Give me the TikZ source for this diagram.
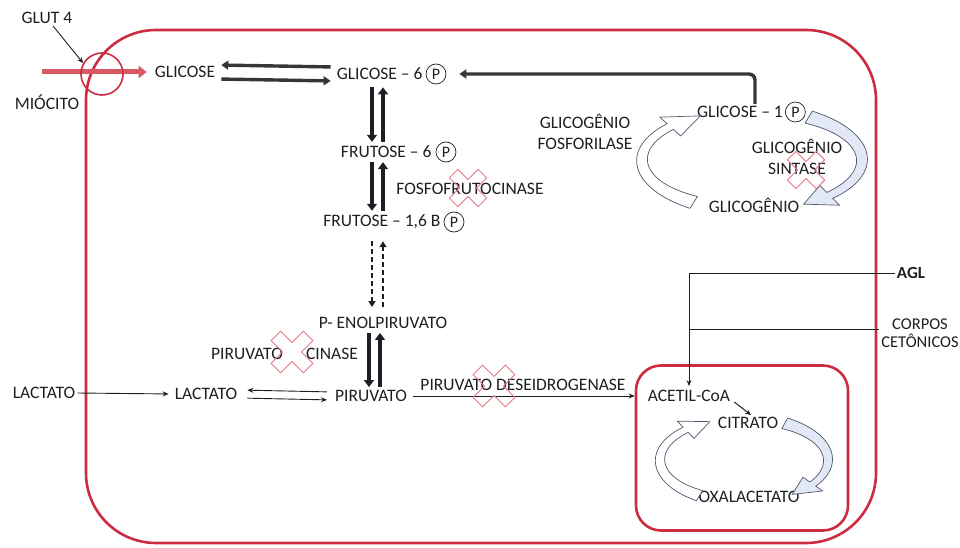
\documentclass[tikz,border=0pt]{standalone}
\usepackage{fontspec}
\setmainfont{Carlito}
\usetikzlibrary{arrows.meta,positioning}

\definecolor{memb}{RGB}{204,44,66}
\definecolor{glutred}{RGB}{216,88,100}
\definecolor{ink}{RGB}{30,30,36}
\definecolor{xpink}{RGB}{228,122,134}
\definecolor{cycfill}{RGB}{226,232,245}
\definecolor{cycline}{RGB}{80,88,110}

\tikzset{
  lbl/.style={font=\fontsize{17.5}{21}\selectfont, text=ink, inner sep=2pt},
  pc/.style={circle, draw=ink, line width=0.7pt, inner sep=0pt, minimum size=20pt,
    font=\fontsize{16}{17}\selectfont, text=ink},
  fat/.style={draw=ink, line width=4.5pt, -{Triangle[length=7pt,width=10pt]}},
  midfat/.style={draw=ink!90, line width=3.4pt, -{Triangle[length=7pt,width=9pt]}},
  dashfat/.style={draw=ink, line width=1.8pt, dash pattern=on 5pt off 3pt,
    -{Triangle[length=6pt,width=7pt]}},
  slim/.style={draw=ink, line width=0.9pt, -{Stealth[length=6pt,width=5pt]}},
  membrane/.style={draw=memb, line width=2.6pt},
  cycwhite/.style={fill=white, draw=cycline, line width=0.7pt},
  cycblue/.style={fill=cycfill, draw=cycline, line width=0.7pt}
}

% outlined cross over an inhibited enzyme
\newcommand{\redcross}[3]{%
  \begin{scope}[shift={(#1,#2)}, rotate=45, scale=#3]
    \draw[xpink, line width=0.9pt] (7,24) -- (7,7) -- (24,7) -- (24,-7) -- (7,-7)
      -- (7,-24) -- (-7,-24) -- (-7,-7) -- (-24,-7) -- (-24,7) -- (-7,7) -- (-7,24) -- cycle;
  \end{scope}}

% curved block arrow on an ellipse: cx cy rx ry tail headbase tip halfwidth style
\newcommand{\cycarrow}[9]{%
  \pgfmathsetmacro{\wA}{#8}\pgfmathsetmacro{\wB}{0.6*#8}\pgfmathsetmacro{\wH}{2*#8}
  \filldraw[#9]
    plot[domain=#5:#6, samples=40, variable=\t]
      ({#1+(#3+\wA+(\wB-\wA)*(\t-#5)/(#6-#5))*cos(\t)},{#2+(#4+\wA+(\wB-\wA)*(\t-#5)/(#6-#5))*sin(\t)})
    -- ({#1+(#3+\wH)*cos(#6)},{#2+(#4+\wH)*sin(#6)})
    -- ({#1+#3*cos(#7)},{#2+#4*sin(#7)})
    -- ({#1+(#3-\wH)*cos(#6)},{#2+(#4-\wH)*sin(#6)})
    -- plot[domain=#6:#5, samples=40, variable=\t]
      ({#1+(#3-\wA-(\wB-\wA)*(\t-#5)/(#6-#5))*cos(\t)},{#2+(#4-\wA-(\wB-\wA)*(\t-#5)/(#6-#5))*sin(\t)})
    -- cycle;}

\begin{document}
\begin{tikzpicture}[x=1pt, y=-1pt]
  \useasboundingbox (0,0) rectangle (960,548);

  % cell and mitochondrion
  \draw[membrane, rounded corners=70] (86,543) -- (86,30) -- (876,30) -- (876,543) -- cycle;
  \node[draw=memb, line width=2.6pt, rounded corners=25, minimum width=212pt,
    minimum height=165pt] (mito) at (742,448) {};

  % glucose entry
  \node[lbl] (glut) at (47,18) {GLUT 4};
  \node[lbl] (mio) at (47,102) {MIÓCITO};
  \node[lbl] (glc) at (185,72) {GLICOSE};
  \coordinate (ext) at (42,72);
  \draw[glutred, line width=5pt, -{Triangle[length=8pt,width=12pt]}, shorten >=6pt] (ext) -- (glc.west);
  \node[circle, draw=memb, line width=1.6pt, minimum size=42pt] (glutc) at (102,74) {};
  \draw[slim] (glut.south) ++(6,0) -- (glutc.150);

  % glycolysis column
  \node[pc] (g6pP) at (436,74) {P};
  \node[lbl, left=1pt of g6pP] (g6p) {GLICOSE – 6};
  \node[pc] (f6pP) at (446,152) {P};
  \node[lbl, left=2pt of f6pP] (f6p) {FRUTOSE – 6};
  \node[pc] (f16P) at (454,222) {P};
  \node[lbl, left=1pt of f16P] (f16) {FRUTOSE – 1,6 B};
  \node[lbl] (pep) at (383,323) {P- ENOLPIRUVATO};
  \node[lbl] (pir) at (371,396) {PIRUVATO};
  \node[lbl] (lacin) at (206,394) {LACTATO};
  \node[lbl] (lacout) at (44,393) {LACTATO};
  \coordinate (colL) at (372,0);
  \coordinate (colR) at (383,0);

  \draw[midfat, shorten <=4pt, shorten >=4pt] ([yshift=7pt]g6p.west) -- ([yshift=7pt]glc.east);
  \draw[midfat, shorten <=4pt, shorten >=4pt] ([yshift=-7pt]glc.east) -- ([yshift=-7pt]g6p.west);

  \draw[fat, shorten <=3pt, shorten >=2pt] (colL |- g6pP.south) -- (colL |- f6p.north);
  \draw[fat, shorten <=2pt, shorten >=3pt] (colR |- f6p.north) -- (colR |- g6pP.south);
  \draw[fat, shorten <=2pt, shorten >=2pt] (colL |- f6p.south) -- (colL |- f16.north);
  \draw[fat, shorten <=2pt, shorten >=2pt] (colR |- f16.north) -- (colR |- f6p.south);
  \draw[dashfat, shorten <=10pt, shorten >=8pt] (colL |- f16.south) -- (colL |- pep.north);
  \draw[dashfat, shorten <=8pt, shorten >=10pt] (colR |- pep.north) -- (colR |- f16.south);
  \draw[fat, shorten <=2pt, shorten >=1pt] (pep.south -| 369,0) -- (pir.north -| 369,0);
  \draw[fat, shorten <=1pt, shorten >=2pt] (pir.north -| 380,0) -- (pep.south -| 380,0);

  \draw[slim, shorten <=6pt, shorten >=8pt] ([yshift=4pt]pir.west) -- ([yshift=4pt]lacin.east);
  \draw[slim, shorten <=8pt, shorten >=6pt] ([yshift=-4pt]lacin.east) -- ([yshift=-4pt]pir.west);
  \draw[slim, shorten >=4pt] (lacout.east) -- (lacin.west);

  % enzymes
  \node[lbl] (pfk) at (470,189) {FOSFOFRUTOCINASE};
  \node[lbl] (pk1) at (247,354) {PIRUVATO};
  \node[lbl] (pk2) at (332,354) {CINASE};
  \node[lbl] (pdh) at (523,385) {PIRUVATO DESEIDROGENASE};
  \draw[slim, shorten <=4pt] (pir.east) -- (pir.east -| mito.west);
  \redcross{468}{188}{0.85}
  \redcross{292}{352}{0.95}
  \redcross{494}{386}{0.95}

  % glycogen
  \node[lbl] (g1p) at (740,112) {GLICOSE – 1};
  \node[pc, right=0pt of g1p] (g1pP) {P};
  \node[lbl, align=center] (gfos) at (585,132) {GLICOGÊNIO\\FOSFORILASE};
  \node[lbl, align=center] (gsin) at (797,157) {GLICOGÊNIO\\SINTASE};
  \node[lbl] (glicog) at (754,205) {GLICOGÊNIO};
  \cycarrow{752}{160}{110}{50}{122}{222}{242}{7}{cycwhite}
  \cycarrow{752}{160}{110}{50}{301}{405}{422}{7}{cycblue}
  \redcross{806}{170}{0.85}
  \draw[midfat, rounded corners=6, shorten >=13pt] ([xshift=15pt]g1p.north) |- (g6pP.east);

  % mitochondrion
  \node[lbl] (acoa) at (689,396) {ACETIL-CoA};
  \node[lbl] (cit) at (748,423) {CITRATO};
  \node[lbl] (oaa) at (749,497) {OXALACETATO};
  \draw[slim, line width=1pt] ([shift={(2,6)}]acoa.east) -- ([xshift=3pt]cit.north);
  \cycarrow{744}{460}{84}{42}{122}{226}{246}{6}{cycwhite}
  \cycarrow{744}{460}{84}{42}{299}{395}{415}{6}{cycblue}

  % fatty acids and ketone bodies
  \node[lbl, font=\fontsize{17}{21}\selectfont\bfseries] (agl) at (911,273) {AGL};
  \node[lbl, align=center, font=\fontsize{16.5}{18}\selectfont] (corpos) at (920,333) {CORPOS\\CETÔNICOS};
  \draw[slim] (agl.west) -| ([yshift=2pt]acoa.north);
  \coordinate (cj) at ([yshift=4pt]corpos.west);
  \draw[line width=0.9pt, ink] (cj) -- (cj -| acoa.north);
\end{tikzpicture}
\end{document}
